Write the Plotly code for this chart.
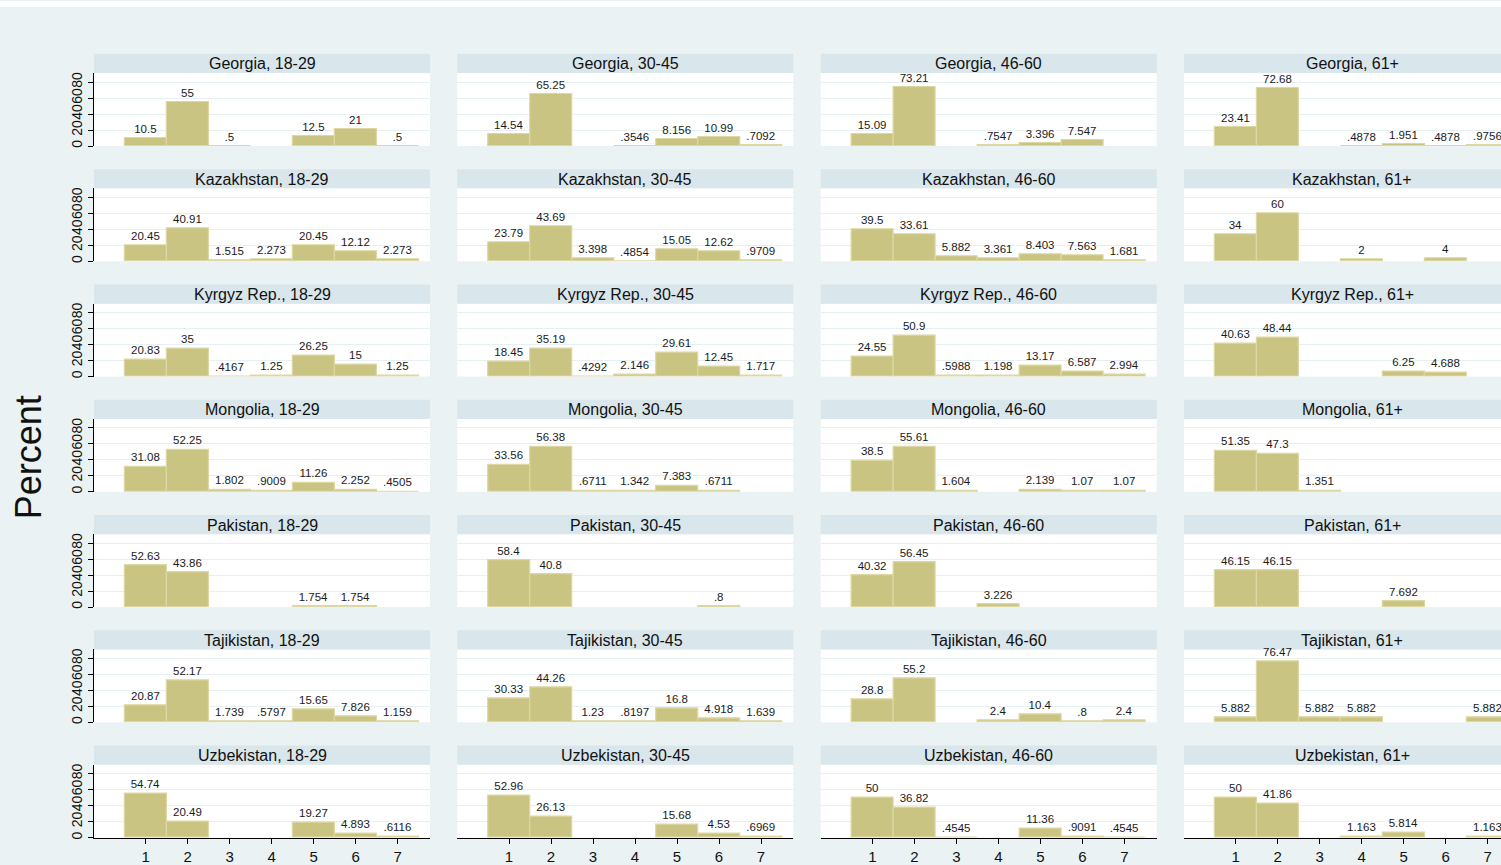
import plotly.graph_objects as go

# ---- data ----
countries = ["Georgia", "Kazakhstan", "Kyrgyz Rep.", "Mongolia", "Pakistan", "Tajikistan", "Uzbekistan"]
age_groups = ["18-29", "30-45", "46-60", "61+"]
categories = [1, 2, 3, 4, 5, 6, 7]
y_ticks = [0, 20, 40, 60, 80]

georgia = [
    [10.5, 55, 0.5, None, 12.5, 21, 0.5],
    [14.54, 65.25, None, 0.3546, 8.156, 10.99, 0.7092],
    [15.09, 73.21, None, 0.7547, 3.396, 7.547, None],
    [23.41, 72.68, None, 0.4878, 1.951, 0.4878, 0.9756],
]
kazakhstan = [
    [20.45, 40.91, 1.515, 2.273, 20.45, 12.12, 2.273],
    [23.79, 43.69, 3.398, 0.4854, 15.05, 12.62, 0.9709],
    [39.5, 33.61, 5.882, 3.361, 8.403, 7.563, 1.681],
    [34, 60, None, 2, None, 4, None],
]
kyrgyz = [
    [20.83, 35, 0.4167, 1.25, 26.25, 15, 1.25],
    [18.45, 35.19, 0.4292, 2.146, 29.61, 12.45, 1.717],
    [24.55, 50.9, 0.5988, 1.198, 13.17, 6.587, 2.994],
    [40.63, 48.44, None, None, 6.25, 4.688, None],
]
mongolia = [
    [31.08, 52.25, 1.802, 0.9009, 11.26, 2.252, 0.4505],
    [33.56, 56.38, 0.6711, 1.342, 7.383, 0.6711, None],
    [38.5, 55.61, 1.604, None, 2.139, 1.07, 1.07],
    [51.35, 47.3, 1.351, None, None, None, None],
]
pakistan = [
    [52.63, 43.86, None, None, 1.754, 1.754, None],
    [58.4, 40.8, None, None, None, 0.8, None],
    [40.32, 56.45, None, 3.226, None, None, None],
    [46.15, 46.15, None, None, 7.692, None, None],
]
tajikistan = [
    [20.87, 52.17, 1.739, 0.5797, 15.65, 7.826, 1.159],
    [30.33, 44.26, 1.23, 0.8197, 16.8, 4.918, 1.639],
    [28.8, 55.2, None, 2.4, 10.4, 0.8, 2.4],
    [5.882, 76.47, 5.882, 5.882, None, None, 5.882],
]
uzbekistan = [
    [54.74, 20.49, None, None, 19.27, 4.893, 0.6116],
    [52.96, 26.13, None, None, 15.68, 4.53, 0.6969],
    [50, 36.82, 0.4545, None, 11.36, 0.9091, 0.4545],
    [50, 41.86, None, 1.163, 5.814, None, 1.163],
]
all_rows = [georgia, kazakhstan, kyrgyz, mongolia, pakistan, tajikistan, uzbekistan]

# ---- style ----
W, H = 1501, 865
BG = "rgb(234,242,243)"
STRIP = "rgb(217,230,235)"
BAR = "rgb(202,196,131)"
BAR_LINE = "rgb(221,216,163)"
GRID = "rgb(230,239,241)"
FONT = "Liberation Sans, Arial, sans-serif"

col_left = [94, 457.3, 820.7, 1184]
col_w = 336
unit = 42.0
x0 = 1 - 51.7 / unit
row_bottom0 = 146.2
row_step = 116.2
plot_h = 73.5
strip_h = 19.4
y_top = 91.2


def fmt(v):
    s = f"{v:.4g}"
    if s.startswith("0."):
        s = s[1:]
    return s


fig = go.Figure()
shapes = []
annotations = []
layout = {}

for r, rows in enumerate(all_rows):
    for c in range(4):
        k = r * 4 + c + 1
        xa = "xaxis" if k == 1 else f"xaxis{k}"
        ya = "yaxis" if k == 1 else f"yaxis{k}"
        xr = "x" if k == 1 else f"x{k}"
        yr = "y" if k == 1 else f"y{k}"

        vals = rows[c]
        xs = [categories[i] for i, v in enumerate(vals) if v is not None]
        ys = [v for v in vals if v is not None]
        fig.add_trace(go.Bar(
            x=xs, y=ys, width=[1] * len(xs),
            marker=dict(color=BAR, line=dict(color=BAR_LINE, width=1.2)),
            text=[fmt(v) for v in ys], textposition="outside",
            textfont=dict(size=11.5, color="#1a1a1a", family=FONT),
            cliponaxis=False, constraintext="none",
            xaxis=xr, yaxis=yr, showlegend=False, hoverinfo="x+y",
        ))

        left = col_left[c]
        right = left + col_w
        xmax = x0 + col_w / unit
        if right > W:
            xmax = xmax - (right - W) / unit
            right_d = 1.0
        else:
            right_d = right / W
        bottom = row_bottom0 + r * row_step
        top = bottom - plot_h
        last_row = r == len(all_rows) - 1

        layout[xa] = dict(
            domain=[left / W, right_d], range=[x0, xmax], anchor=yr,
            showgrid=False, zeroline=False, fixedrange=True,
            tickvals=categories, showticklabels=last_row,
            ticks="outside" if last_row else "", ticklen=5, tickcolor="black",
            showline=last_row, linecolor="black", linewidth=1,
            tickfont=dict(size=15, color="#111", family=FONT),
        )
        layout[ya] = dict(
            domain=[1 - bottom / H, 1 - top / H], range=[0, y_top], anchor=xr,
            showgrid=True, gridcolor=GRID, gridwidth=1, zeroline=False,
            tickvals=y_ticks, showticklabels=(c == 0), tickangle=-90,
            ticks="outside" if c == 0 else "", ticklen=5, tickcolor="black",
            showline=(c == 0), linecolor="black", linewidth=1,
            tickfont=dict(size=14, color="#111", family=FONT), fixedrange=True,
        )

        s_top = top - strip_h
        shapes.append(dict(
            type="rect", xref="paper", yref="paper",
            x0=left / W, x1=min(right, W) / W,
            y0=1 - top / H, y1=1 - s_top / H,
            fillcolor=STRIP, line=dict(width=0), layer="below",
        ))
        annotations.append(dict(
            text=f"{countries[r]}, {age_groups[c]}",
            x=(left + col_w / 2) / W, y=1 - (s_top + strip_h / 2 + 0.5) / H,
            xref="paper", yref="paper", showarrow=False,
            xanchor="center", yanchor="middle",
            font=dict(size=16, color="#111", family=FONT),
        ))

# white band at the very top
shapes.append(dict(type="rect", xref="paper", yref="paper",
                   x0=0, x1=1, y0=1 - 6 / H, y1=1,
                   fillcolor="white", line=dict(width=0), layer="below"))

annotations.append(dict(
    text="Percent", x=28 / W, y=1 - 460 / H, xref="paper", yref="paper",
    showarrow=False, textangle=-90, xanchor="center", yanchor="middle",
    font=dict(size=36, color="#111", family=FONT),
))

fig.update_layout(
    width=W, height=H,
    margin=dict(l=0, r=0, t=0, b=0),
    paper_bgcolor=BG, plot_bgcolor="white",
    barmode="overlay", bargap=0,
    shapes=shapes, annotations=annotations,
    font=dict(family=FONT),
    **layout,
)

fig.write_html(
    "out.html",
    config={"displayModeBar": False},
    post_script="document.body.style.margin='0px';document.body.style.overflow='hidden';",
)
